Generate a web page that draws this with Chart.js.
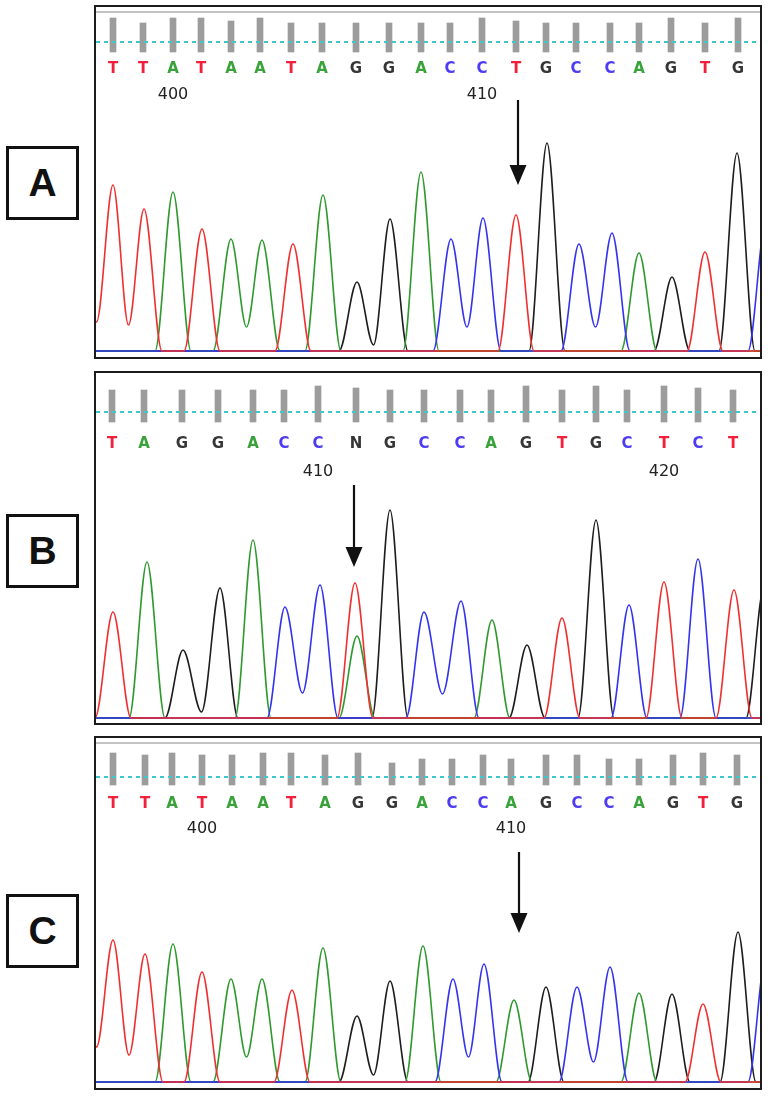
<!DOCTYPE html>
<html>
<head>
<meta charset="utf-8">
<script src="https://cdn.jsdelivr.net/npm/chart.js@4.4.0/dist/chart.umd.min.js"></script>
<style>
  body { margin: 0; background: #fff; width: 768px; height: 1098px; position: relative; overflow: hidden; }
  .tag { position: absolute; left: 6px; width: 67px; height: 68px; border: 3px solid #111;
         font: bold 39px "Liberation Sans", Arial, sans-serif; color: #111;
         display: flex; align-items: center; justify-content: center; }
  .panel { position: absolute; left: 94px; width: 664px; height: 350px; border: 2px solid #1c1c1c; }
  .panel .rule { position: absolute; left: 0; right: 0; top: 4px; border-top: 2px solid #c4c4c4; }
  .panel canvas { position: absolute; left: 0; top: 0; }
</style>
</head>
<body>
<div class="tag" style="top:146px">A</div>
<div class="tag" style="top:514px">B</div>
<div class="tag" style="top:894px">C</div>

<div class="panel" style="top:5px"><div class="rule"></div><canvas id="chartA" width="664" height="350"></canvas></div>
<div class="panel" style="top:371px"><canvas id="chartB" width="664" height="350"></canvas></div>
<div class="panel" style="top:736px"><div class="rule"></div><canvas id="chartC" width="664" height="350"></canvas></div>

<script>
// ---- panel A (reference sequence) ----
const callsA = 'TTATAATAGGACCTGCCAGTG'.split('');
const callPosA = [17, 47, 77, 105, 135, 164, 195, 226, 260, 293, 325, 354, 386, 420, 450, 480, 514, 543, 575, 609, 642];
const qualA = [34, 29, 34, 34, 31, 34, 29, 29, 29, 29, 29, 29, 34, 31, 29, 29, 29, 29, 34, 29, 34];
const tickIdxA = [2, 12];
const tickTxtA = ['400', '410'];
const peakChA = ['T', 'T', 'T', 'A', 'T', 'A', 'A', 'T', 'A', 'G', 'G', 'A', 'C', 'C', 'T', 'G', 'C', 'C', 'A', 'G', 'T', 'G', 'C'];
const peakPosA = [-16, 17, 48, 77, 106, 135, 166, 197, 227, 261, 294, 325, 355, 387, 420, 451, 483, 516, 543, 576, 609, 641, 670];
const peakHtA = [150, 166, 142, 159, 122, 112, 111, 107, 156, 69, 132, 179, 112, 133, 136, 208, 107, 118, 98, 74, 99, 198, 130];
const dipA = [null, 29, 26, null, null, null, 24, null, null, null, 6, null, null, 24, null, null, null, 24, null, null, null, null, null];

// ---- panel B (heterozygous N) ----
const callsB = 'TAGGACCNGCCAGTGCTCT'.split('');
const callPosB = [16, 48, 86, 122, 157, 188, 222, 260, 294, 328, 364, 395, 430, 466, 500, 531, 568, 602, 637];
const qualB = [32, 32, 32, 32, 32, 32, 36, 34, 32, 32, 32, 32, 36, 32, 36, 32, 36, 34, 32];
const tickIdxB = [6, 16];
const tickTxtB = ['410', '420'];
const peakChB = ['T', 'A', 'G', 'G', 'A', 'C', 'C', 'T', 'A', 'G', 'C', 'C', 'A', 'G', 'T', 'G', 'C', 'T', 'C', 'T', 'G'];
const peakPosB = [17, 51, 87, 124, 157, 189, 224, 259, 261, 294, 328, 365, 396, 431, 466, 500, 533, 568, 602, 638, 668];
const peakHtB = [106, 156, 68, 130, 178, 111, 133, 135, 82, 208, 106, 117, 98, 73, 100, 198, 113, 136, 159, 128, 130];
const dipB = [null, null, null, 6, null, null, 25, null, null, null, null, 24, null, null, null, null, null, null, null, null, null];

// ---- panel C (mutant) ----
const callsC = 'TTATAATAGGACCAGCCAGTG'.split('');
const callPosC = [17, 49, 76, 106, 136, 167, 195, 229, 262, 296, 326, 356, 387, 415, 450, 481, 513, 543, 577, 607, 641];
const qualC = [32, 30, 32, 30, 30, 32, 32, 30, 32, 22, 26, 26, 30, 26, 30, 30, 26, 26, 30, 32, 30];
const tickIdxC = [3, 13];
const tickTxtC = ['400', '410'];
const peakChC = ['T', 'T', 'T', 'A', 'T', 'A', 'A', 'T', 'A', 'G', 'G', 'A', 'C', 'C', 'A', 'G', 'C', 'C', 'A', 'G', 'T', 'G', 'C'];
const peakPosC = [-16, 17, 49, 77, 106, 135, 166, 196, 227, 261, 294, 327, 357, 388, 418, 450, 481, 514, 543, 576, 607, 642, 670];
const peakHtC = [150, 142, 128, 138, 110, 103, 103, 92, 134, 66, 101, 136, 103, 118, 82, 95, 95, 115, 89, 88, 78, 150, 125];
const dipC = [null, 35, 27, null, null, null, 25, null, null, null, 7, null, null, 25, null, null, null, 20, null, null, null, null, null];

const traceCol = { T: '#f03030', A: '#2e9a2e', G: '#1e1e1e', C: '#3434f0' };
const letterCol = { T: '#f2203a', A: '#3aa23a', G: '#363636', C: '#4c3cf2', N: '#363636' };
const W = 664, H = 350, HALF = 18;

function tracePoints(p, ch) {
  const idx = p.peakCh.map((c, i) => i).filter(i => p.peakCh[i] === ch)
    .sort((a, b) => p.peakPos[a] - p.peakPos[b]);
  const pts = [{ x: -60, y: 0 }];
  idx.forEach((i, n) => {
    const x = p.peakPos[i];
    if (n > 0) {
      const px = p.peakPos[idx[n - 1]];
      if (p.dip[i] != null) pts.push({ x: (px + x) / 2, y: p.dip[i] });
      else if (px + HALF >= x - HALF) pts.push({ x: (px + x) / 2, y: 0 });
      else { pts.push({ x: px + HALF, y: 0 }); pts.push({ x: x - HALF, y: 0 }); }
    } else {
      pts.push({ x: x - HALF, y: 0 });
    }
    pts.push({ x: x, y: p.peakHt[i] });
  });
  if (idx.length) pts.push({ x: p.peakPos[idx[idx.length - 1]] + HALF, y: 0 });
  pts.push({ x: W + 60, y: 0 });
  return pts;
}

function drawPanel(id, p) {
  const datasets = [];
  ['T', 'C', 'A', 'G'].forEach((ch, k) => {
    datasets.push({
      data: tracePoints(p, ch),
      borderColor: traceCol[ch],
      borderWidth: 1.6,
      pointRadius: 0,
      cubicInterpolationMode: 'monotone',
      order: k + 1
    });
  });
  datasets.push({
    data: [{ x: 0, y: p.cyan }, { x: W, y: p.cyan }],
    yAxisID: 'yq',
    borderColor: '#3cc8cc',
    borderWidth: 2,
    borderDash: [4, 4],
    pointRadius: 0,
    order: 6
  });
  datasets.push({
    type: 'bar',
    data: p.callPos.map((x, i) => ({ x: x, y: p.qual[i] })),
    yAxisID: 'yq',
    backgroundColor: '#9c9c9c',
    barThickness: 6,
    order: 7
  });

  const overlay = {
    id: 'seqText',
    afterDatasetsDraw(chart) {
      const c = chart.ctx, xs = chart.scales.x;
      c.save();
      c.textAlign = 'center';
      c.textBaseline = 'middle';
      c.font = 'bold 15px "DejaVu Sans", sans-serif';
      p.calls.forEach((b, i) => {
        c.fillStyle = letterCol[b];
        c.fillText(b, xs.getPixelForValue(p.callPos[i]), p.letterY);
      });
      c.font = '16px "DejaVu Sans", sans-serif';
      c.fillStyle = '#222';
      p.tickIdx.forEach((k, j) => {
        c.fillText(p.tickTxt[j], xs.getPixelForValue(p.callPos[k]), p.numY);
      });
      const ax = xs.getPixelForValue(p.arrowAt);
      c.strokeStyle = '#111';
      c.fillStyle = '#111';
      c.lineWidth = 2.2;
      c.beginPath();
      c.moveTo(ax, p.arrowTop);
      c.lineTo(ax, p.arrowTip - 16);
      c.stroke();
      c.beginPath();
      c.moveTo(ax - 8.5, p.arrowTip - 20);
      c.lineTo(ax + 8.5, p.arrowTip - 20);
      c.lineTo(ax, p.arrowTip);
      c.closePath();
      c.fill();
      c.restore();
    }
  };

  return new Chart(document.getElementById(id).getContext('2d'), {
    type: 'line',
    data: { datasets: datasets },
    options: {
      responsive: false,
      animation: false,
      events: [],
      layout: { padding: 0 },
      plugins: { legend: { display: false }, tooltip: { enabled: false } },
      scales: {
        x: { type: 'linear', min: 0, max: W, offset: false, display: false },
        y: { min: p.base - H, max: p.base, display: false },
        yq: { min: p.barBase - H, max: p.barBase, display: false }
      }
    },
    plugins: [overlay]
  });
}

drawPanel('chartA', {
  calls: callsA, callPos: callPosA, qual: qualA, tickIdx: tickIdxA, tickTxt: tickTxtA,
  peakCh: peakChA, peakPos: peakPosA, peakHt: peakHtA, dip: dipA,
  base: 344, barBase: 45, cyan: 10, letterY: 62, numY: 88,
  arrowAt: 422, arrowTop: 93, arrowTip: 178
});
drawPanel('chartB', {
  calls: callsB, callPos: callPosB, qual: qualB, tickIdx: tickIdxB, tickTxt: tickTxtB,
  peakCh: peakChB, peakPos: peakPosB, peakHt: peakHtB, dip: dipB,
  base: 345, barBase: 49, cyan: 10, letterY: 71, numY: 99,
  arrowAt: 258, arrowTop: 112, arrowTip: 194
});
drawPanel('chartC', {
  calls: callsC, callPos: callPosC, qual: qualC, tickIdx: tickIdxC, tickTxt: tickTxtC,
  peakCh: peakChC, peakPos: peakPosC, peakHt: peakHtC, dip: dipC,
  base: 344, barBase: 47, cyan: 8, letterY: 66, numY: 91,
  arrowAt: 423, arrowTop: 114, arrowTip: 195
});
</script>
</body>
</html>
